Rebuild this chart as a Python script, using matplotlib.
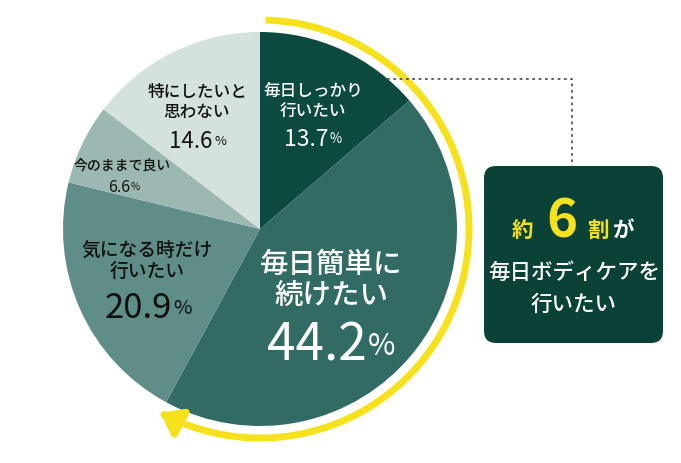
import numpy as np
import matplotlib
matplotlib.use("Agg")
import matplotlib.pyplot as plt
from matplotlib.patches import FancyBboxPatch, FancyArrowPatch
from matplotlib.path import Path

plt.rcParams['font.family'] = ['Noto Sans CJK JP', 'DejaVu Sans']
plt.rcParams['font.weight'] = 'medium'

# data (clockwise from 12 o'clock)
labels = ['毎日しっかり\n行いたい', '毎日簡単に\n続けたい', '気になる時だけ\n行いたい',
          '今のままで良い', '特にしたいと\n思わない']
values = [13.7, 44.2, 20.9, 6.6, 14.6]
colors = ['#0c4a40', '#326b64', '#5f8d87', '#9cb8b3', '#d4e1de']
text_colors = ['white', 'white', '#111111', '#111111', '#111111']

W, H = 681, 463
cx, cy, R = 260, H - 229, 197
YELLOW = '#f5e21c'
DARK = '#0b4238'

fig = plt.figure(figsize=(W / 100, H / 100), dpi=100)
ax = fig.add_axes([0, 0, 1, 1])

ax.pie(values, colors=colors, startangle=90, counterclock=False,
       center=(cx, cy), radius=R, wedgeprops=dict(linewidth=0))
ax.set_xlim(0, W)
ax.set_ylim(0, H)
ax.set_aspect('equal')
ax.axis('off')


def label(x, y, text, size, pct, psize, color, gap, pshift=0, ls=1.15):
    py = H - y
    ax.text(x, py, text, ha='center', va='center', fontsize=size, color=color,
            linespacing=ls)
    num = ax.text(x - pshift, py - gap, f'{pct}', ha='center', va='center',
                  fontsize=psize, color=color, weight='normal')
    ax.annotate('%', xy=(1, 0.2), xycoords=num, xytext=(1, 0),
                textcoords='offset points', ha='left', va='bottom',
                fontsize=psize * 0.58, color=color, weight='normal')


label(313, 101, labels[0], 12, values[0], 16.5, text_colors[0], 38, 7)
label(331, 280, labels[1], 20.5, values[1], 37, text_colors[1], 66, 14, 1.1)
label(147, 261, labels[2], 13.5, values[2], 25, text_colors[2], 47, 9)
ax.text(122, H - 165, labels[3], ha='center', va='center', fontsize=10,
        color=text_colors[3])
n = ax.text(119, H - 187, f'{values[3]}', ha='center', va='center',
            fontsize=11.5, color=text_colors[3], weight='normal')
ax.annotate('%', xy=(1, 0.2), xycoords=n, xytext=(0.5, 0),
            textcoords='offset points', ha='left', va='bottom',
            fontsize=11.5 * 0.62, color=text_colors[3], weight='normal')
label(197, 102, labels[4], 12, values[4], 16, text_colors[4], 39, 6)

# yellow arrow arc around the "want to do daily" share
share = (values[0] + values[1]) / 100
ra = 209
th = np.radians(np.linspace(88.5, 90 - 360 * share, 200))
verts = np.column_stack([cx + ra * np.cos(th), cy + ra * np.sin(th)])
arc = FancyArrowPatch(path=Path(verts), arrowstyle='-|>,head_length=12,head_width=9',
                      color=YELLOW, lw=5, mutation_scale=1, capstyle='butt')
ax.add_patch(arc)

# dotted connector
ax.plot([387, 572, 572], [H - 79, H - 79, H - 166], color='#555555', lw=1.3,
        ls=(0, (1.5, 2)))

# callout box
box = FancyBboxPatch((494, H - 333), 159, 157, boxstyle='round,pad=10,rounding_size=12',
                     fc=DARK, ec='none')
ax.add_patch(box)
ax.text(522, H - 237, '約', ha='center', va='baseline', fontsize=15.5,
        color=YELLOW, weight='bold')
ax.text(562, H - 237, '6', ha='center', va='baseline', fontsize=38,
        color=YELLOW, weight='bold')
ax.text(598, H - 237, '割', ha='center', va='baseline', fontsize=15.5,
        color=YELLOW, weight='bold')
ax.text(624, H - 237, 'が', ha='center', va='baseline', fontsize=15.5,
        color='white', weight='bold')
ax.text(574, H - 273, '毎日ボディケアを', ha='center', va='center', fontsize=15.5,
        color='white')
ax.text(574, H - 305, '行いたい', ha='center', va='center', fontsize=15.5,
        color='white')

fig.savefig('out.png', dpi=100)
